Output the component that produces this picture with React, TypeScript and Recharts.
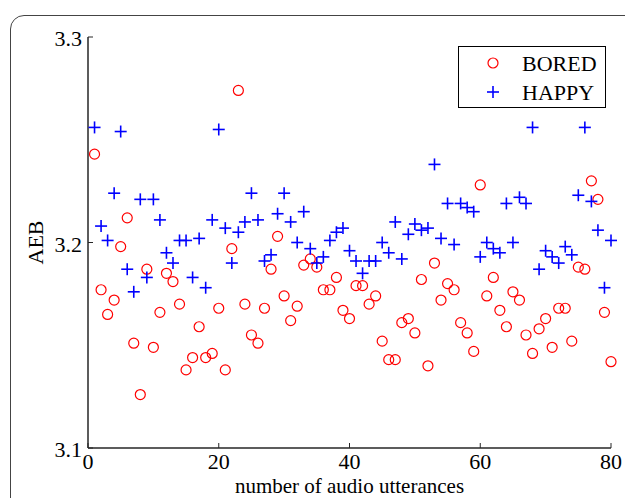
import React from "react"
import { ScatterChart, Scatter, XAxis, YAxis, Legend } from "recharts"

// values, one per utterance (x = 1..80)
const bored = [
  3.243, 3.177, 3.165, 3.172, 3.198, 3.212, 3.151, 3.126, 3.187, 3.149,
  3.166, 3.185, 3.181, 3.170, 3.138, 3.144, 3.159, 3.144, 3.146, 3.168,
  3.138, 3.197, 3.274, 3.170, 3.155, 3.151, 3.168, 3.187, 3.203, 3.174,
  3.162, 3.169, 3.189, 3.192, 3.188, 3.177, 3.177, 3.183, 3.167, 3.163,
  3.179, 3.179, 3.170, 3.174, 3.152, 3.143, 3.143, 3.161, 3.163, 3.156,
  3.182, 3.140, 3.190, 3.172, 3.180, 3.177, 3.161, 3.156, 3.147, 3.228,
  3.174, 3.183, 3.167, 3.159, 3.176, 3.172, 3.155, 3.146, 3.158, 3.163,
  3.149, 3.168, 3.168, 3.152, 3.188, 3.187, 3.230, 3.221, 3.166, 3.142,
]

const happy = [
  3.256, 3.208, 3.201, 3.224, 3.254, 3.187, 3.176, 3.221, 3.183, 3.221,
  3.211, 3.195, 3.190, 3.201, 3.201, 3.183, 3.202, 3.178, 3.211, 3.255,
  3.207, 3.190, 3.205, 3.210, 3.224, 3.211, 3.191, 3.194, 3.214, 3.224,
  3.210, 3.200, 3.215, 3.197, 3.190, 3.193, 3.201, 3.205, 3.207, 3.196,
  3.191, 3.185, 3.191, 3.191, 3.200, 3.195, 3.210, 3.192, 3.204, 3.209,
  3.206, 3.207, 3.238, 3.202, 3.219, 3.199, 3.219, 3.217, 3.215, 3.193,
  3.200, 3.197, 3.195, 3.219, 3.200, 3.222, 3.219, 3.256, 3.187, 3.196,
  3.193, 3.190, 3.198, 3.194, 3.223, 3.256, 3.220, 3.206, 3.178, 3.201,
]

const xTicks = [0, 20, 40, 60, 80]
const yTicks = [3.1, 3.2, 3.3]

const boredData = bored.map((v, i) => ({ x: i + 1, y: v }))
const happyData = happy.map((v, i) => ({ x: i + 1, y: v }))

const FONT = "'Liberation Serif', 'Times New Roman', serif"
const AXIS = "#262626"
const RED = "#ff0000"
const BLUE = "#0000ff"

const Circle = (props: any) => (
  <circle cx={props.cx} cy={props.cy} r={5} fill="none" stroke={RED} strokeWidth={1.2} />
)

const Plus = (props: any) => {
  const { cx, cy } = props
  return (
    <g stroke={BLUE} strokeWidth={1.6}>
      <line x1={cx - 6} y1={cy} x2={cx + 6} y2={cy} />
      <line x1={cx} y1={cy - 6} x2={cx} y2={cy + 6} />
    </g>
  )
}

// inward ticks, matlab style
const BottomTick = (props: any) => {
  const { x, y, payload } = props
  return (
    <g>
      <line x1={x} y1={y} x2={x} y2={y - 5} stroke={AXIS} strokeWidth={1} />
      <text x={x} y={y + 21} textAnchor="middle" fontFamily={FONT} fontSize={22} fill="#000">
        {payload.value}
      </text>
    </g>
  )
}

const TopTick = (props: any) => {
  const { x, y } = props
  return <line x1={x} y1={y} x2={x} y2={y + 5} stroke={AXIS} strokeWidth={1} />
}

const LeftTick = (props: any) => {
  const { x, y, payload } = props
  return (
    <g>
      <line x1={x} y1={y} x2={x + 5} y2={y} stroke={AXIS} strokeWidth={1} />
      <text x={x - 6} y={y + 9} textAnchor="end" fontFamily={FONT} fontSize={22} fill="#000">
        {payload.value.toFixed(1)}
      </text>
    </g>
  )
}

const RightTick = (props: any) => {
  const { x, y } = props
  return <line x1={x} y1={y} x2={x - 5} y2={y} stroke={AXIS} strokeWidth={1} />
}

const XLabel = (props: any) => {
  const { viewBox } = props
  return (
    <text
      x={viewBox.x + viewBox.width / 2}
      y={viewBox.y + 45}
      textAnchor="middle"
      fontFamily={FONT}
      fontSize={21}
      fill="#000"
    >
      number of audio utterances
    </text>
  )
}

const YLabel = (props: any) => {
  const { viewBox } = props
  const cx = 43
  const cy = viewBox.y + viewBox.height / 2
  return (
    <text
      x={cx}
      y={cy}
      transform={`rotate(-90, ${cx}, ${cy})`}
      textAnchor="middle"
      fontFamily={FONT}
      fontSize={22}
      fill="#000"
    >
      AEB
    </text>
  )
}

const renderLegend = () => (
  <div
    style={{
      width: 146,
      height: 60,
      border: "1.5px solid #000",
      background: "#fff",
      position: "relative",
    }}
  >
    <svg width={146} height={60} style={{ position: "absolute", left: 0, top: 0 }}>
      <circle cx={34} cy={16} r={5} fill="none" stroke={RED} strokeWidth={1.2} />
      <line x1={28} y1={45} x2={40} y2={45} stroke={BLUE} strokeWidth={1.6} />
      <line x1={34} y1={39} x2={34} y2={51} stroke={BLUE} strokeWidth={1.6} />
      <text x={63} y={24} fontFamily={FONT} fontSize={22}>BORED</text>
      <text x={63} y={53} fontFamily={FONT} fontSize={22}>HAPPY</text>
    </svg>
  </div>
)

export default function App() {
  return (
    <div style={{ position: "absolute", left: 0, top: 0, width: 625, height: 498, background: "#fff", overflow: "hidden" }}>
      <div
        style={{
          position: "absolute",
          left: 10,
          top: 15,
          width: 640,
          height: 520,
          border: "1.5px solid #444",
          borderRadius: 14,
        }}
      />
      <ScatterChart width={625} height={498} margin={{ top: 37, right: 14, bottom: 0, left: 0 }}>
        <XAxis
          xAxisId="b"
          type="number"
          dataKey="x"
          domain={[0, 80]}
          ticks={xTicks}
          height={50}
          tickSize={0}
          tickMargin={0}
          tickLine={false}
          axisLine={{ stroke: AXIS, strokeWidth: 1.5 }}
          tick={<BottomTick />}
          label={<XLabel />}
        />
        <XAxis
          xAxisId="t"
          orientation="top"
          type="number"
          dataKey="x"
          domain={[0, 80]}
          ticks={xTicks}
          height={0}
          tickSize={0}
          tickMargin={0}
          tickLine={false}
          axisLine={{ stroke: AXIS, strokeWidth: 1.5 }}
          tick={<TopTick />}
        />
        <YAxis
          yAxisId="l"
          type="number"
          dataKey="y"
          domain={[3.1, 3.3]}
          ticks={yTicks}
          width={88}
          tickSize={0}
          tickMargin={0}
          tickLine={false}
          axisLine={{ stroke: AXIS, strokeWidth: 1.5 }}
          tick={<LeftTick />}
          label={<YLabel />}
        />
        <YAxis
          yAxisId="r"
          orientation="right"
          type="number"
          dataKey="y"
          domain={[3.1, 3.3]}
          ticks={yTicks}
          width={0}
          tickSize={0}
          tickMargin={0}
          tickLine={false}
          axisLine={{ stroke: AXIS, strokeWidth: 1.5 }}
          tick={<RightTick />}
        />
        <Legend
          layout="vertical"
          align="center"
          verticalAlign="middle"
          content={renderLegend}
          wrapperStyle={{ left: 458, top: 46, width: 149, height: 63 }}
        />
        <Scatter name="BORED" data={boredData} xAxisId="b" yAxisId="l" shape={<Circle />} isAnimationActive={false} />
        <Scatter name="HAPPY" data={happyData} xAxisId="b" yAxisId="l" shape={<Plus />} isAnimationActive={false} />
      </ScatterChart>
    </div>
  )
}
